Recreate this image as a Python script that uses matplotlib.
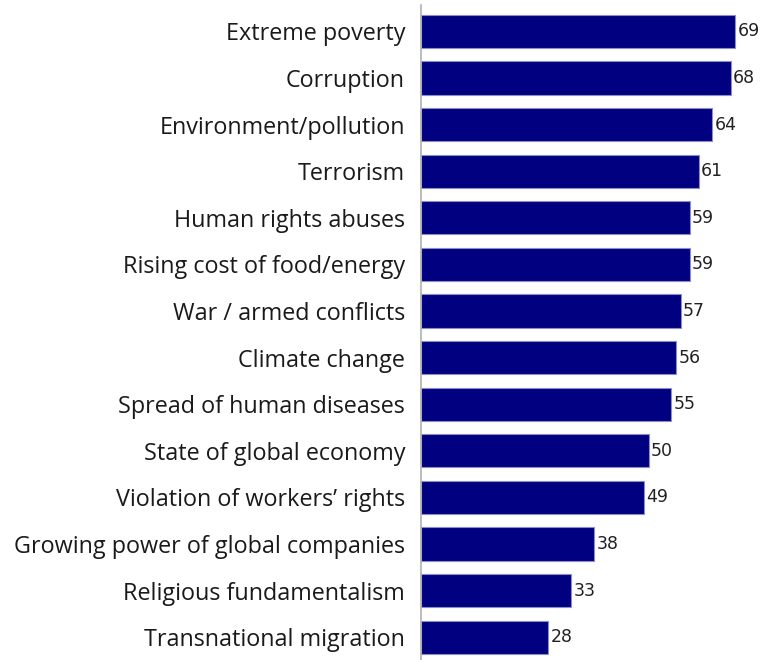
import matplotlib.pyplot as plt

issues = ["Extreme poverty", "Corruption", "Environment/pollution", "Terrorism",
          "Human rights abuses", "Rising cost of food/energy", "War / armed conflicts",
          "Climate change", "Spread of human diseases", "State of global economy",
          "Violation of workers\u2019 rights", "Growing power of global companies",
          "Religious fundamentalism", "Transnational migration"]
scores = [69, 68, 64, 61, 59, 59, 57, 56, 55, 50, 49, 38, 33, 28]

fig = plt.figure(figsize=(7.65, 6.6), dpi=100)
ax = fig.add_axes([421 / 765, 0.0, 1 - 421 / 765 - 0.02, 0.992])

ypos = list(range(len(issues)))
ax.barh(ypos, scores, height=0.71, color="#000080", edgecolor="#8c8cc8", linewidth=0.8)

# value labels just past the end of each bar
for y, v in zip(ypos, scores):
    ax.text(v + 0.5, y, str(v), va="center", ha="left", fontsize=12.5,
            family="DejaVu Sans", color="#222222")

ax.set_yticks(ypos)
ax.set_yticklabels(issues, fontsize=16.8, family="Open Sans", color="#1a1a1a")
ax.tick_params(axis="y", length=0, pad=11.5)
ax.set_xticks([])
ax.set_xlim(0, 72.2)
ax.set_ylim(13.49, -0.56)

for side in ["top", "right", "bottom"]:
    ax.spines[side].set_visible(False)
ax.spines["left"].set_color("#b0b0b0")
ax.spines["left"].set_linewidth(1.2)

fig.savefig("out.png", dpi=100)
